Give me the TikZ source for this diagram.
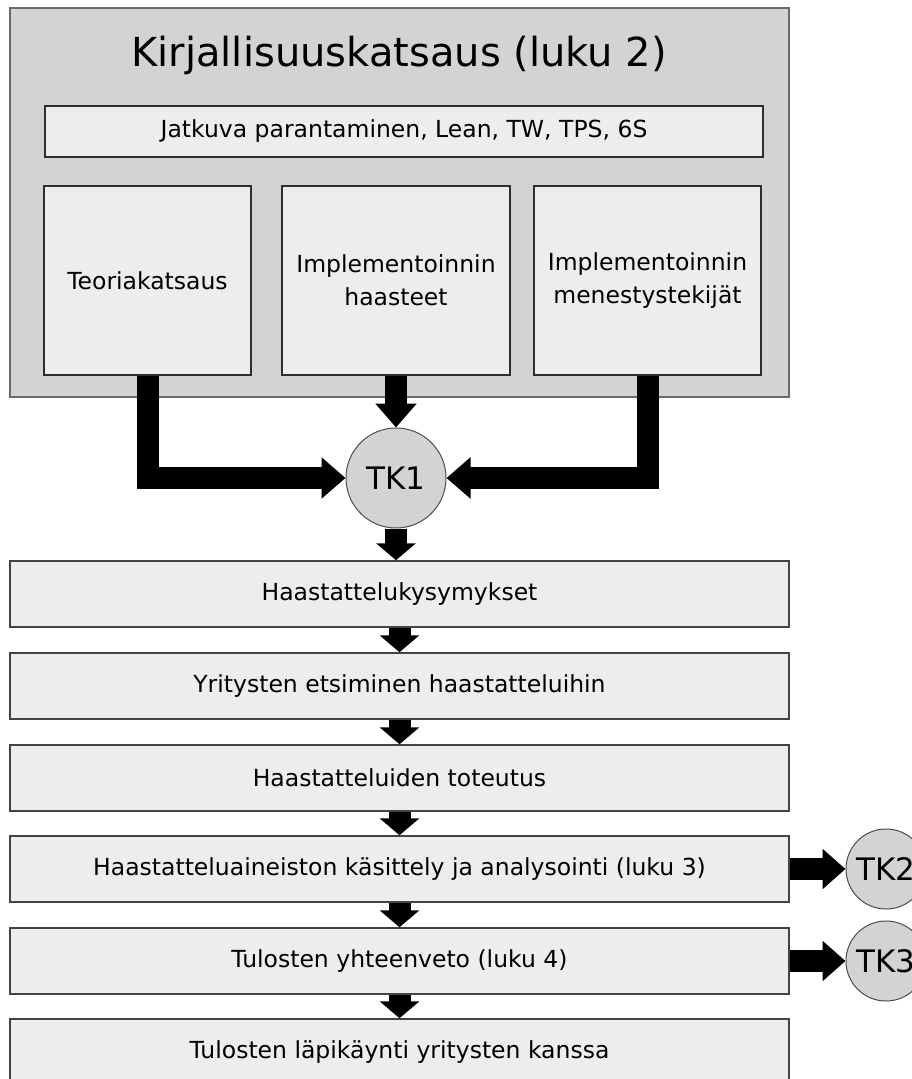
\documentclass[tikz,border=0pt]{standalone}
\usepackage{fontspec}
\setmainfont{DejaVu Sans}
\usetikzlibrary{arrows.meta}
\definecolor{panelgray}{HTML}{D3D3D3}
\definecolor{boxfill}{HTML}{EDEDED}
\definecolor{boxline}{HTML}{2E2E2E}
\definecolor{panelline}{HTML}{6A6A6A}
\tikzset{
  panel/.style={draw=panelline, fill=panelgray, line width=1.5pt},
  innerbox/.style={draw=boxline, fill=boxfill, line width=1.6pt, inner sep=0pt,
    align=center, font=\fontsize{23.5}{33}\selectfont},
  stagebox/.style={draw=boxline!90, fill=boxfill, line width=1.5pt, inner sep=0pt,
    minimum width=779pt, minimum height=66pt, font=\fontsize{23.5}{33}\selectfont},
  tkcircle/.style={circle, draw=black!70, fill=panelgray, line width=1pt, inner sep=0pt,
    font=\fontsize{31}{36}\selectfont},
  bigarrow/.style={line width=22pt, line join=miter, draw=black,
    -{Triangle[width=40pt,length=24pt]}},
  steparrow/.style={line width=22pt, draw=black,
    -{Triangle[width=39pt,length=17pt]}},
}
\begin{document}
\begin{tikzpicture}[x=1pt, y=-1pt]
  \clip (0,0) rectangle (912,1079);
  \fill[white] (0,0) rectangle (912,1079);

  % literature review panel
  \draw[panel] (10,8) rectangle (789,397);
  \node[font=\fontsize{40}{46}\selectfont] (title) at (399,55) {Kirjallisuuskatsaus (luku 2)};
  \node[innerbox, minimum width=718pt, minimum height=51pt] (topics) at (404,131.5)
    {Jatkuva parantaminen, Lean, TW, TPS, 6S};
  \node[innerbox, minimum width=207pt, minimum height=189pt] (b1) at (147.5,280.5)
    {Teoriakatsaus};
  \node[innerbox, minimum width=228pt, minimum height=189pt] (b2) at (396,280.5)
    {Implementoinnin\\haasteet};
  \node[innerbox, minimum width=227pt, minimum height=189pt] (b3) at (647.5,280.5)
    {Implementoinnin\\menestystekijät};

  % research question 1
  \node[tkcircle, minimum size=100pt] (tk1) at (396,478) {TK1};
  \draw[bigarrow] (b1.south) |- (tk1.west);
  \draw[bigarrow] (b3.south) |- (tk1.east);
  \draw[bigarrow] (b2.south) -- (tk1.north);

  % interview stages
  \node[stagebox] (s1) at (399.5,594) {Haastattelukysymykset};
  \node[stagebox] (s2) at (399.5,686) {Yritysten etsiminen haastatteluihin};
  \node[stagebox] (s3) at (399.5,778) {Haastatteluiden toteutus};
  \node[stagebox] (s4) at (399.5,869) {Haastatteluaineiston käsittely ja analysointi (luku 3)};
  \node[stagebox] (s5) at (399.5,961) {Tulosten yhteenveto (luku 4)};
  \node[stagebox] (s6) at (399.5,1052) {Tulosten läpikäynti yritysten kanssa};

  \draw[steparrow] (tk1.south) -- (tk1.south |- s1.north);
  \draw[steparrow] (s1.south) -- (s2.north);
  \draw[steparrow] (s2.south) -- (s3.north);
  \draw[steparrow] (s3.south) -- (s4.north);
  \draw[steparrow] (s4.south) -- (s5.north);
  \draw[steparrow] (s5.south) -- (s6.north);

  % research questions 2 and 3
  \node[tkcircle, minimum size=80pt] (tk2) at (886,869) {TK2};
  \node[tkcircle, minimum size=80pt] (tk3) at (886,961) {TK3};
  \draw[bigarrow, -{Triangle[width=39pt,length=23pt]}] (s4.east) -- (tk2.west);
  \draw[bigarrow, -{Triangle[width=39pt,length=23pt]}] (s5.east) -- (tk3.west);
\end{tikzpicture}
\end{document}
